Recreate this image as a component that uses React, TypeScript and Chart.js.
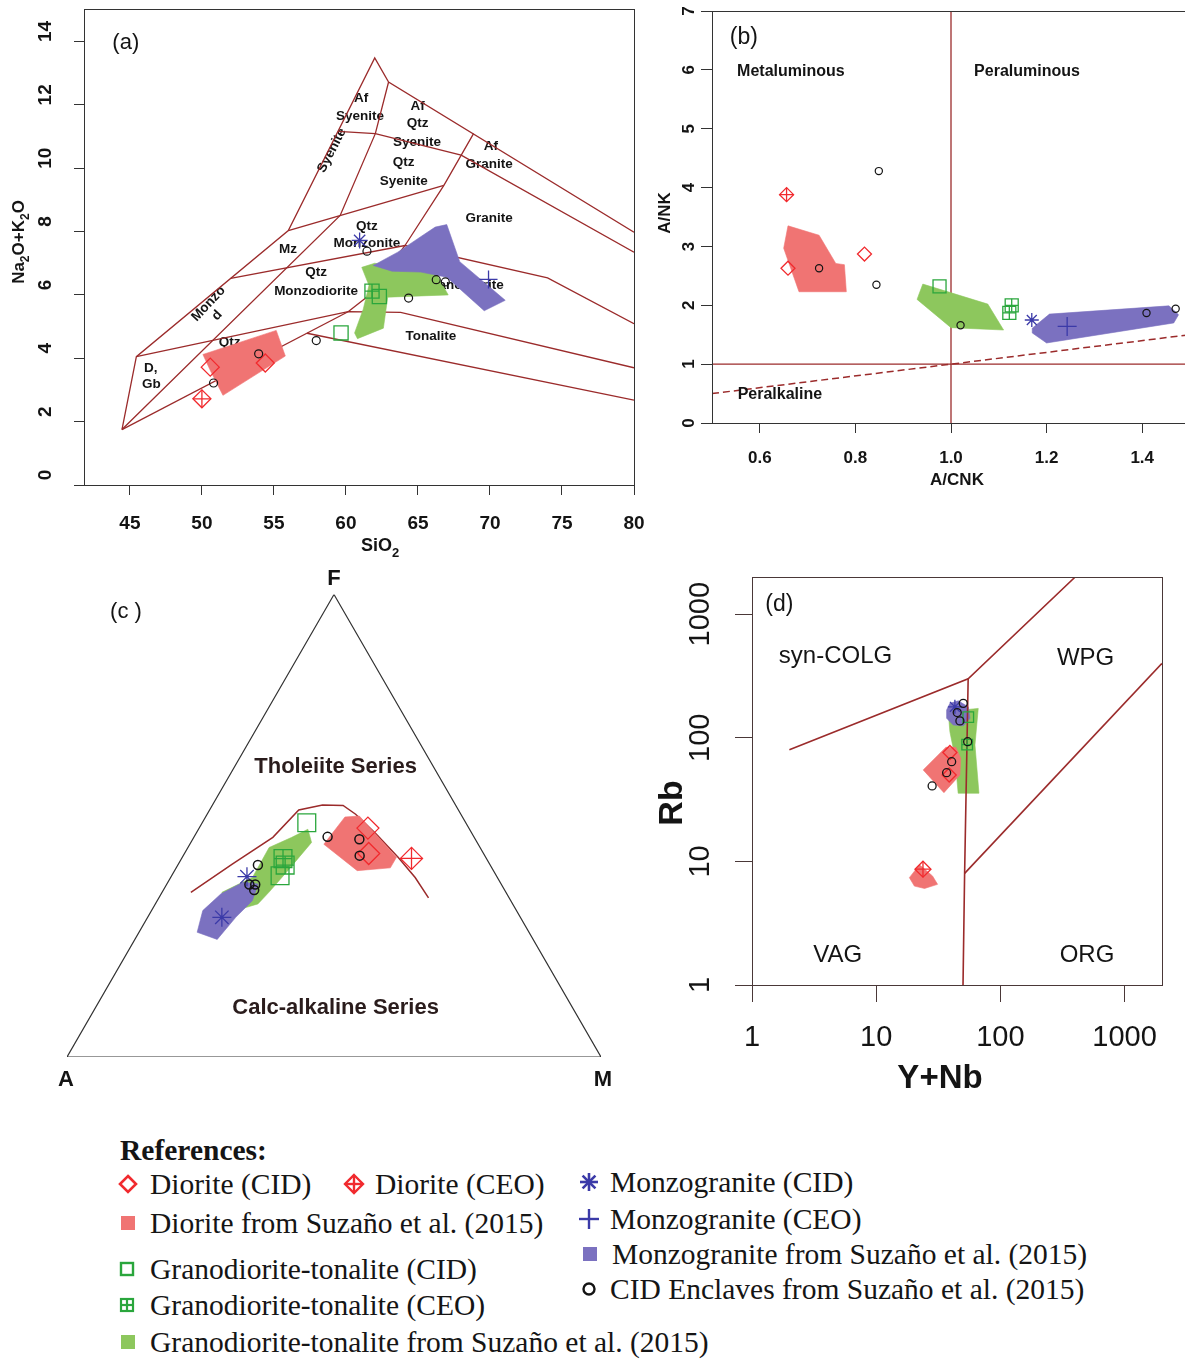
import React, { useEffect, useRef } from 'react';
import { Chart, registerables } from 'chart.js';

Chart.register(...registerables);

// ---------------- style ----------------
const SANS = '"Liberation Sans", Arial, Helvetica, sans-serif';
const SERIF = '"Liberation Serif", "Times New Roman", Times, serif';
const INK = '#141414';
const LINE = '#9b2b2b';
const RED = '#f12a2e';
const GREEN = '#2aa63c';
const BLUE = '#3b3aa8';
const RED_FILL = '#f07473';
const GREEN_FILL = '#8dc75d';
const BLUE_FILL = '#7b71c0';

// ---------------- (a) TAS (SiO2 vs Na2O+K2O) ----------------
const tasXTicks = [45, 50, 55, 60, 65, 70, 75, 80];
const tasYTicks = [0, 2, 4, 6, 8, 10, 12, 14];
const tasOuter = [[44.45, 1.75], [45.45, 4.05], [56.0, 8.03], [62.0, 13.48], [62.96, 12.72], [80, 7.98]];
const tasLowerEdge = [[44.45, 1.75], [60.15, 5.47]];
const tasTonaliteBase = [[57.3, 4.79], [80, 2.68]];
const tasLine1 = [[45.45, 4.05], [60.15, 5.47], [63.8, 5.45], [80, 3.7]];
const tasLine2 = [[52.0, 6.52], [64.1, 7.56], [74.0, 6.54], [80, 5.09]];
const tasLine3 = [[56.0, 8.03], [66.8, 9.46]];
const tasLine4 = [[59.45, 11.16], [62.04, 11.09], [68.0, 10.41], [80, 7.35]];
const tasSilica1 = [[44.45, 1.75], [59.6, 8.51], [62.04, 11.09], [62.96, 12.72]];
const tasSilica2 = [[60.15, 5.47], [61.5, 5.95], [64.1, 7.56], [66.8, 9.46], [68.86, 11.09]];
const tasLabels = [
  { t: 'Af', x: 61.06, y: 12.2 }, { t: 'Syenite', x: 60.98, y: 11.63 },
  { t: 'Af', x: 64.98, y: 11.97 }, { t: 'Qtz', x: 64.98, y: 11.41 }, { t: 'Syenite', x: 64.93, y: 10.82 },
  { t: 'Af', x: 70.07, y: 10.68 }, { t: 'Granite', x: 69.94, y: 10.13 },
  { t: 'Syenite', x: 59.02, y: 10.56, r: -63 },
  { t: 'Qtz', x: 64.01, y: 10.2 }, { t: 'Syenite', x: 64.01, y: 9.6 },
  { t: 'Granite', x: 69.94, y: 8.42 },
  { t: 'Qtz', x: 61.45, y: 8.17 }, { t: 'Monzonite', x: 61.45, y: 7.63 },
  { t: 'Mz', x: 55.97, y: 7.43 },
  { t: 'Qtz', x: 57.93, y: 6.71 }, { t: 'Monzodiorite', x: 57.93, y: 6.11 },
  { t: 'Monzo', x: 50.46, y: 5.72, r: -47 }, { t: 'd', x: 51.05, y: 5.35, r: -47 },
  { t: 'Granodiorite', x: 68.15, y: 6.3 },
  { t: 'Tonalite', x: 65.89, y: 4.7 },
  { t: 'D,', x: 46.44, y: 3.69 }, { t: 'Gb', x: 46.49, y: 3.18 },
  { t: 'Qtz', x: 51.92, y: 4.51 },
];
const aDioriteCID = [[50.58, 3.72], [54.4, 3.85]];
const aDioriteCEO = [[50.0, 2.72]];
const aGranoCID = [[59.66, 4.8], [62.32, 5.95]];
const aGranoCEO = [[61.81, 6.12]];
const aMonzoCID = [[60.95, 7.72]];
const aMonzoCEO = [[69.9, 6.49]];
const aEnclaves = [[50.81, 3.22], [53.94, 4.14], [57.94, 4.56], [61.46, 7.38], [64.35, 5.9], [66.27, 6.48], [66.9, 6.41]];
const aDioritePoly = [[50.07, 4.12], [55.16, 4.88], [55.79, 4.07], [51.46, 2.83], [50.58, 3.62]];
const aGranoPoly = [[61.1, 6.87], [62.0, 7.0], [66.3, 6.65], [67.1, 6.0], [62.9, 5.93], [62.6, 4.95], [60.8, 4.62], [60.6, 4.8], [61.2, 5.55], [61.6, 6.3]];
const aMonzoPoly = [[61.9, 6.93], [63.6, 7.35], [65.5, 7.93], [66.2, 8.14], [67.0, 8.22], [67.9, 7.05], [71.06, 5.83], [69.6, 5.5], [67.0, 6.56], [65.2, 6.72], [63.2, 6.75]];

// ---------------- (b) A/CNK vs A/NK ----------------
const bXTicks = [0.6, 0.8, 1.0, 1.2, 1.4];
const bYTicks = [0, 1, 2, 3, 4, 5, 6, 7];
const bVertical = [[1, 0], [1, 7]];
const bHorizontal = [[0.5, 1], [1.5, 1]];
const bPeralkaline = [[0.5, 0.5], [1.5, 1.5]];
const bLabels = [
  { t: 'Metaluminous', x: 0.665, y: 5.97 },
  { t: 'Peraluminous', x: 1.159, y: 5.97 },
  { t: 'Peralkaline', x: 0.642, y: 0.48 },
];
const bDioriteCID = [[0.659, 2.63], [0.819, 2.87]];
const bDioriteCEO = [[0.656, 3.88]];
const bGranoCID = [[0.976, 2.32]];
const bGranoCEO = [[1.127, 2.0], [1.122, 1.87]];
const bMonzoCID = [[1.169, 1.75]];
const bMonzoCEO = [[1.243, 1.64]];
const bEnclaves = [[0.724, 2.63], [0.849, 4.28], [0.844, 2.35], [1.02, 1.66], [1.409, 1.87], [1.47, 1.94]];
const bDioritePoly = [[0.659, 3.35], [0.724, 3.19], [0.759, 2.71], [0.777, 2.69], [0.781, 2.23], [0.682, 2.23], [0.65, 2.97]];
const bGranoPoly = [[0.941, 2.36], [1.077, 2.02], [1.11, 1.58], [1.0, 1.62], [0.929, 2.1]];
const bMonzoPoly = [[1.17, 1.61], [1.206, 1.85], [1.456, 1.99], [1.476, 1.84], [1.466, 1.7], [1.2, 1.36], [1.17, 1.53]];

// ---------------- (c) AFM ternary, values as [A, F, M] % ----------------
const cTriangle = [[100, 0, 0], [0, 0, 100], [0, 100, 0], [100, 0, 0]];
const cBoundary = [[59.0, 35.6, 5.4], [48.2, 41.7, 10.1], [37.7, 47.5, 14.8], [29.9, 53.4, 16.7], [24.9, 54.5, 20.6], [21.1, 54.4, 24.5], [19.7, 52.5, 27.8], [18.0, 48.2, 33.8], [16.4, 43.2, 40.4], [15.4, 38.8, 45.8], [15.1, 34.4, 50.5]];
const cGranoCID = [[29.8, 50.7, 19.6], [40.5, 39.2, 20.3]];
const cGranoCEO = [[38.1, 42.9, 19.0], [38.4, 41.5, 20.1]];
const cEnclaves = [[27.4, 47.6, 25.0], [21.7, 47.1, 31.2], [23.4, 43.5, 33.0], [43.5, 41.5, 15.0], [47.2, 37.3, 15.5], [46.1, 37.3, 16.6], [46.9, 36.1, 17.0]];
const cDioriteCID = [[18.9, 49.5, 31.6], [21.5, 44.0, 34.5]];
const cDioriteCEO = [[14.0, 42.9, 43.0]];
const cMonzoCID = [[46.8, 39.0, 14.2], [55.9, 30.2, 13.9]];
const cDioritePoly = [[28.9, 46.0, 25.1], [22.0, 51.9, 26.1], [19.2, 52.1, 28.7], [16.7, 43.2, 40.1], [19.0, 40.9, 40.1], [25.5, 40.3, 34.2]];
const cGranoPoly = [[53.2, 35.6, 11.2], [45.8, 38.8, 15.3], [39.5, 45.3, 15.2], [34.3, 47.5, 18.3], [30.3, 49.3, 20.5], [31.0, 46.4, 22.6], [38.5, 40.3, 21.2], [44.4, 35.6, 20.0], [47.7, 33.1, 19.2], [51.3, 32.0, 16.6], [53.2, 33.8, 13.0]];
const cMonzoPoly = [[62.2, 27.0, 10.9], [58.8, 31.7, 9.6], [53.5, 35.3, 11.2], [48.1, 37.8, 14.1], [45.5, 37.4, 17.1], [48.4, 33.8, 17.8], [53.3, 30.2, 16.5], [59.1, 25.4, 15.4]];

// ---------------- (d) Y+Nb vs Rb (log-log) ----------------
const dTicks = [1, 10, 100, 1000];
const dLineSynCol = [[2, 80], [55, 300], [400, 2000]];
const dLineVag = [[55, 300], [51.5, 8], [50, 1]];
const dLineOrg = [[51.5, 8], [2000, 400]];
const dLabels = [
  { t: 'syn-COLG', x: 4.7, y: 455 },
  { t: 'WPG', x: 485, y: 440 },
  { t: 'VAG', x: 4.9, y: 1.74 },
  { t: 'ORG', x: 498, y: 1.74 },
];
const dDioriteCID = [[39.2, 76], [38.7, 50]];
const dDioriteCEO = [[23.8, 8.65]];
const dGranoCID = [[55.1, 147]];
const dGranoCEO = [[54, 88]];
const dMonzoCID = [[43.0, 178]];
const dEnclaves = [[50.2, 190], [44.9, 160], [47.2, 137], [54.5, 93], [40.5, 64.1], [36.9, 52.2], [28.2, 40.8]];
const dDioritePoly1 = [[23.9, 55], [36.4, 83.8], [43.8, 83.8], [47.9, 68.3], [47.2, 50.1], [35.1, 36]];
const dDioritePoly2 = [[18.5, 7.39], [22.3, 9.39], [28.4, 7.63], [31.2, 6.52], [24.5, 6.04], [20.3, 6.31]];
const dGranoPoly = [[38, 163], [66.3, 173], [62.4, 87.5], [67.2, 35.6], [45.7, 35.6], [43, 70.3], [39.2, 112]];
const dMonzoPoly = [[36.9, 168], [39.2, 190], [45.8, 199], [55.1, 178], [56.9, 144], [50.2, 125], [41.7, 127], [36.9, 144]];

// ---------------- helpers ----------------
const toXY = (a: number[][]) => a.map((p) => ({ x: p[0], y: p[1] }));
const close = (a: number[][]) => a.concat([a[0]]);
const tern = (p: number[]) => {
  const s = p[0] + p[1] + p[2];
  const f = p[1] / s;
  const m = p[2] / s;
  return { x: m + f / 2, y: (f * Math.sqrt(3)) / 2 };
};
const toTern = (a: number[][]) => a.map(tern);

const lineDS = (data: any[], color = LINE, width = 1.3, dash: number[] = [], order = 40) => ({
  type: 'line', data, borderColor: color, borderWidth: width, borderDash: dash,
  pointRadius: 0, pointHoverRadius: 0, fill: false, tension: 0, order,
});
const polyDS = (data: any[], color: string, order = 34) => ({
  type: 'line', data, borderColor: color, borderWidth: 0.6, backgroundColor: color,
  fill: 'shape', pointRadius: 0, pointHoverRadius: 0, tension: 0, order,
});
const ptDS = (data: any[], style: string, r: number, color: string, w = 1.3, order = 10) => ({
  type: 'scatter', data, pointStyle: style, pointRadius: r, pointHoverRadius: r,
  pointBorderColor: color, pointBackgroundColor: 'rgba(0,0,0,0)', pointBorderWidth: w,
  borderColor: color, backgroundColor: 'rgba(0,0,0,0)', showLine: false, order,
});

const axis = (type: string, pos: string, min: number, max: number, ticks: number[], size: number, tickLen: number, color: string) => ({
  type, position: pos, min, max,
  afterBuildTicks: (s: any) => { s.ticks = ticks.map((v) => ({ value: v })); },
  afterFit: (s: any) => { if (pos === 'bottom') s.height = size; else s.width = size; },
  grid: { display: true, drawOnChartArea: false, drawTicks: true, tickLength: tickLen, color, lineWidth: 1 },
  border: { display: false },
  ticks: { display: false },
});
const hidden = (min: number, max: number) => ({ type: 'linear', min, max, display: false });

const common = (padding: any) => ({
  animation: false, responsive: false, maintainAspectRatio: false, events: [],
  layout: { autoPadding: false, padding },
  plugins: { legend: { display: false }, tooltip: { enabled: false } },
});

function T(ctx: CanvasRenderingContext2D, s: string, x: number, y: number, font: string, color = INK, rot = 0) {
  ctx.save();
  ctx.translate(x, y);
  if (rot) ctx.rotate((rot * Math.PI) / 180);
  ctx.font = font;
  ctx.fillStyle = color;
  ctx.textAlign = 'center';
  ctx.textBaseline = 'middle';
  ctx.fillText(s, 0, 0);
  ctx.restore();
}
function R(ctx: CanvasRenderingContext2D, segs: [string, boolean][], x: number, y: number, size: number, rot = 0) {
  ctx.save();
  ctx.translate(x, y);
  if (rot) ctx.rotate((rot * Math.PI) / 180);
  const fb = `bold ${size}px ${SANS}`;
  const fs = `bold ${Math.round(size * 0.7)}px ${SANS}`;
  let w = 0;
  for (const [t, sub] of segs) { ctx.font = sub ? fs : fb; w += ctx.measureText(t).width; }
  let cx = -w / 2;
  ctx.fillStyle = INK; ctx.textAlign = 'left'; ctx.textBaseline = 'alphabetic';
  for (const [t, sub] of segs) {
    ctx.font = sub ? fs : fb;
    ctx.fillText(t, cx, size * 0.36 + (sub ? size * 0.3 : 0));
    cx += ctx.measureText(t).width;
  }
  ctx.restore();
}
function box(ctx: CanvasRenderingContext2D, ca: any, color: string) {
  ctx.save();
  ctx.strokeStyle = color; ctx.lineWidth = 1;
  const l = Math.round(ca.left) + 0.5, t = Math.round(ca.top) + 0.5;
  const r = Math.round(ca.right) + 0.5, b = Math.round(ca.bottom) + 0.5;
  ctx.strokeRect(l, t, r - l, b - t);
  ctx.restore();
}

// ---------------- panel configs ----------------
const cfgA = () => ({
  type: 'scatter',
  data: {
    datasets: [
      lineDS(toXY(tasOuter)), lineDS(toXY(tasLowerEdge)), lineDS(toXY(tasTonaliteBase)),
      lineDS(toXY(tasLine1)), lineDS(toXY(tasLine2)), lineDS(toXY(tasLine3)), lineDS(toXY(tasLine4)),
      lineDS(toXY(tasSilica1)), lineDS(toXY(tasSilica2)),
      polyDS(toXY(close(aGranoPoly)), GREEN_FILL, 34),
      polyDS(toXY(close(aMonzoPoly)), BLUE_FILL, 33),
      polyDS(toXY(close(aDioritePoly)), RED_FILL, 32),
      ptDS(toXY(aEnclaves), 'circle', 4, INK, 1.2),
      ptDS(toXY(aDioriteCID), 'rectRot', 9, RED),
      ptDS(toXY(aDioriteCEO), 'rectRot', 9, RED), ptDS(toXY(aDioriteCEO), 'cross', 9, RED),
      ptDS(toXY(aGranoCID), 'rect', 10, GREEN),
      ptDS(toXY(aGranoCEO), 'rect', 10, GREEN), ptDS(toXY(aGranoCEO), 'cross', 7, GREEN),
      ptDS(toXY(aMonzoCID), 'star', 8, BLUE), ptDS(toXY(aMonzoCEO), 'cross', 9, BLUE),
    ],
  },
  options: {
    ...common({ left: 0, top: 9, right: 16, bottom: 0 }),
    scales: {
      x: axis('linear', 'bottom', 41.814, 80, tasXTicks, 80, 10, '#333'),
      y: axis('linear', 'left', 0, 15.025, tasYTicks, 84, 10, '#333'),
    },
  },
  plugins: [{
    id: 'decoA',
    beforeDatasetsDraw(chart: any) {
      const { ctx, scales: { x, y } } = chart;
      for (const L of tasLabels) T(ctx, L.t, x.getPixelForValue(L.x), y.getPixelForValue(L.y), `bold 13.5px ${SANS}`, INK, (L as any).r || 0);
    },
    afterDatasetsDraw(chart: any) {
      const { ctx, chartArea, scales: { x, y } } = chart;
      box(ctx, chartArea, '#333');
      for (const v of tasXTicks) T(ctx, String(v), x.getPixelForValue(v), 524, `bold 19px ${SANS}`);
      for (const v of tasYTicks) T(ctx, String(v), 45.7, y.getPixelForValue(v) - 10, `bold 19px ${SANS}`, INK, -90);
      R(ctx, [['SiO', false], ['2', true]], 380, 545, 18);
      R(ctx, [['Na', false], ['2', true], ['O+K', false], ['2', true], ['O', false]], 18, 242, 17, -90);
      T(ctx, '(a)', 125.8, 43, `22px ${SANS}`);
    },
  }],
});

const cfgB = () => ({
  type: 'scatter',
  data: {
    datasets: [
      lineDS(toXY(bVertical)), lineDS(toXY(bHorizontal)), lineDS(toXY(bPeralkaline), LINE, 1.5, [7, 4]),
      polyDS(toXY(close(bGranoPoly)), GREEN_FILL, 34),
      polyDS(toXY(close(bMonzoPoly)), BLUE_FILL, 33),
      polyDS(toXY(close(bDioritePoly)), RED_FILL, 32),
      ptDS(toXY(bEnclaves), 'circle', 3.6, INK, 1.2),
      ptDS(toXY(bDioriteCID), 'rectRot', 7, RED),
      ptDS(toXY(bDioriteCEO), 'rectRot', 7, RED), ptDS(toXY(bDioriteCEO), 'cross', 7, RED),
      ptDS(toXY(bGranoCID), 'rect', 9.2, GREEN),
      ptDS(toXY(bGranoCEO), 'rect', 9.2, GREEN), ptDS(toXY(bGranoCEO), 'cross', 6.5, GREEN),
      ptDS(toXY(bMonzoCID), 'star', 7, BLUE), ptDS(toXY(bMonzoCEO), 'cross', 9.5, BLUE),
    ],
  },
  options: {
    ...common({ left: 0, top: 11, right: 5, bottom: 0 }),
    scales: {
      x: axis('linear', 'bottom', 0.5, 1.5, bXTicks, 77, 10, '#333'),
      y: axis('linear', 'left', 0, 7, bYTicks, 62, 11, '#333'),
    },
  },
  plugins: [{
    id: 'decoB',
    afterDatasetsDraw(chart: any) {
      const { ctx, chartArea, scales: { x, y } } = chart;
      box(ctx, chartArea, '#333');
      for (const L of bLabels) T(ctx, L.t, x.getPixelForValue(L.x), y.getPixelForValue(L.y), `bold 16px ${SANS}`);
      for (const v of bXTicks) T(ctx, v.toFixed(1), x.getPixelForValue(v), 458, `bold 17px ${SANS}`);
      for (const v of bYTicks) T(ctx, String(v), 39.2, y.getPixelForValue(v), `bold 17px ${SANS}`, INK, -90);
      T(ctx, 'A/CNK', 307, 480, `bold 17px ${SANS}`);
      T(ctx, 'A/NK', 15.4, 213, `bold 17px ${SANS}`, INK, -90);
      T(ctx, '(b)', 93.8, 37.3, `23px ${SANS}`);
    },
  }],
});

const cfgC = () => ({
  type: 'scatter',
  data: {
    datasets: [
      lineDS(toTern(cTriangle), '#333', 1.2, [], 41),
      lineDS(toTern(cBoundary), LINE, 1.5, [], 40),
      polyDS(toTern(close(cGranoPoly)), GREEN_FILL, 36),
      polyDS(toTern(close(cMonzoPoly)), BLUE_FILL, 35),
      polyDS(toTern(close(cDioritePoly)), RED_FILL, 34),
      ptDS(toTern(cEnclaves), 'circle', 4.5, INK, 1.5),
      ptDS(toTern(cDioriteCID), 'rectRot', 11, RED),
      ptDS(toTern(cDioriteCEO), 'rectRot', 11, RED), ptDS(toTern(cDioriteCEO), 'cross', 11, RED),
      ptDS(toTern(cGranoCID), 'rect', 12.6, GREEN),
      ptDS(toTern(cGranoCEO), 'rect', 12.6, GREEN), ptDS(toTern(cGranoCEO), 'cross', 8.9, GREEN),
      ptDS(toTern(cMonzoCID), 'star', 9.5, BLUE),
    ],
  },
  options: {
    ...common({ left: 67, top: 29.55, right: 49, bottom: 48 }),
    scales: { x: hidden(0, 1), y: hidden(0, Math.sqrt(3) / 2) },
  },
  plugins: [{
    id: 'decoC',
    afterDatasetsDraw(chart: any) {
      const { ctx, scales: { x, y } } = chart;
      const f = `bold 22px ${SANS}`;
      T(ctx, 'Tholeiite Series', x.getPixelForValue(0.503), y.getPixelForValue(0.5436), f, '#2a1c1c');
      T(ctx, 'Calc-alkaline Series', x.getPixelForValue(0.503), y.getPixelForValue(0.0922), f, '#2a1c1c');
      T(ctx, 'A', x.getPixelForValue(0) - 1, y.getPixelForValue(0) + 23, f);
      T(ctx, 'M', x.getPixelForValue(1) + 2, y.getPixelForValue(0) + 23, f);
      T(ctx, 'F', x.getPixelForValue(0.5), y.getPixelForValue(Math.sqrt(3) / 2) - 16, f);
      T(ctx, '(c )', 126, 47, `22px ${SANS}`);
    },
  }],
});

const cfgD = () => ({
  type: 'scatter',
  data: {
    datasets: [
      polyDS(toXY(close(dGranoPoly)), GREEN_FILL, 46),
      polyDS(toXY(close(dMonzoPoly)), BLUE_FILL, 45),
      polyDS(toXY(close(dDioritePoly1)), RED_FILL, 44),
      polyDS(toXY(close(dDioritePoly2)), RED_FILL, 44),
      lineDS(toXY(dLineSynCol), LINE, 1.6, [], 30), lineDS(toXY(dLineVag), LINE, 1.6, [], 30), lineDS(toXY(dLineOrg), LINE, 1.6, [], 30),
      ptDS(toXY(dEnclaves), 'circle', 4, INK, 1.3),
      ptDS(toXY(dDioriteCID), 'rectRot', 7, RED),
      ptDS(toXY(dDioriteCEO), 'rectRot', 8, RED), ptDS(toXY(dDioriteCEO), 'cross', 8, RED),
      ptDS(toXY(dGranoCID), 'rect', 7.5, GREEN),
      ptDS(toXY(dGranoCEO), 'rect', 7.5, GREEN), ptDS(toXY(dGranoCEO), 'cross', 5.3, GREEN),
      ptDS(toXY(dMonzoCID), 'star', 7, BLUE),
    ],
  },
  options: {
    ...common({ left: 0, top: 12, right: 23, bottom: 0 }),
    scales: {
      x: axis('logarithmic', 'bottom', 1, 2000, dTicks, 120, 17, '#4a3838'),
      y: axis('logarithmic', 'left', 1, 2000, dTicks, 102, 17, '#4a3838'),
    },
  },
  plugins: [{
    id: 'decoD',
    afterDatasetsDraw(chart: any) {
      const { ctx, chartArea, scales: { x, y } } = chart;
      box(ctx, chartArea, '#4a3838');
      for (const L of dLabels) T(ctx, L.t, x.getPixelForValue(L.x), y.getPixelForValue(L.y), `24px ${SANS}`);
      for (const v of dTicks) T(ctx, String(v), x.getPixelForValue(v), 473, `29px ${SANS}`);
      for (const v of dTicks) T(ctx, String(v), 51.2, y.getPixelForValue(v), `29px ${SANS}`, INK, -90);
      T(ctx, 'Y+Nb', 290, 514, `bold 33px ${SANS}`);
      T(ctx, 'Rb', 22.2, 238, `bold 34px ${SANS}`, INK, -90);
      T(ctx, '(d)', x.getPixelForValue(1.66), y.getPixelForValue(1205), `23px ${SANS}`);
    },
  }],
});

// ---------------- components ----------------
function Panel({ left, top, w, h, make }: { left: number; top: number; w: number; h: number; make: () => any }) {
  const ref = useRef<HTMLCanvasElement>(null);
  useEffect(() => {
    const c = new Chart(ref.current as HTMLCanvasElement, make());
    return () => c.destroy();
  }, []);
  return <canvas ref={ref} width={w} height={h} style={{ position: 'absolute', left, top, width: w, height: h }} />;
}

function Marker({ kind, x, y }: { kind: string; x: number; y: number }) {
  const s = 24;
  const c = s / 2;
  let el: any = null;
  if (kind === 'diamond') el = <polygon points={`${c},${c - 8} ${c + 8},${c} ${c},${c + 8} ${c - 8},${c}`} fill="none" stroke={RED} strokeWidth={2.6} />;
  else if (kind === 'diamondPlus') el = (<g stroke={RED} strokeWidth={2.4} fill="none"><polygon points={`${c},${c - 9} ${c + 9},${c} ${c},${c + 9} ${c - 9},${c}`} /><line x1={c} y1={c - 9} x2={c} y2={c + 9} /><line x1={c - 9} y1={c} x2={c + 9} y2={c} /></g>);
  else if (kind === 'fillRed') el = <rect x={c - 7} y={c - 7} width={14} height={14} fill={RED_FILL} />;
  else if (kind === 'fillGreen') el = <rect x={c - 7} y={c - 7} width={14} height={14} fill={GREEN_FILL} />;
  else if (kind === 'fillBlue') el = <rect x={c - 7} y={c - 7} width={14} height={14} fill={BLUE_FILL} />;
  else if (kind === 'square') el = <rect x={c - 6} y={c - 6} width={12} height={12} fill="none" stroke={GREEN} strokeWidth={2.4} />;
  else if (kind === 'squarePlus') el = (<g stroke={GREEN} strokeWidth={2.2} fill="none"><rect x={c - 6} y={c - 6} width={12} height={12} /><line x1={c} y1={c - 6} x2={c} y2={c + 6} /><line x1={c - 6} y1={c} x2={c + 6} y2={c} /></g>);
  else if (kind === 'star') el = (<g stroke={BLUE} strokeWidth={2.6}><line x1={c} y1={c - 9} x2={c} y2={c + 9} /><line x1={c - 9} y1={c} x2={c + 9} y2={c} /><line x1={c - 6.4} y1={c - 6.4} x2={c + 6.4} y2={c + 6.4} /><line x1={c - 6.4} y1={c + 6.4} x2={c + 6.4} y2={c - 6.4} /></g>);
  else if (kind === 'plus') el = (<g stroke={BLUE} strokeWidth={2.4}><line x1={c} y1={c - 10} x2={c} y2={c + 10} /><line x1={c - 10} y1={c} x2={c + 10} y2={c} /></g>);
  else if (kind === 'circle') el = <circle cx={c} cy={c} r={5.5} fill="none" stroke={INK} strokeWidth={2.4} />;
  return <svg width={s} height={s} style={{ position: 'absolute', left: x - c, top: y - c }}>{el}</svg>;
}

const legendItems = [
  { y: 1184, mx: 128, tx: 150, mk: 'diamond', text: 'Diorite (CID)' },
  { y: 1184, mx: 354, tx: 375, mk: 'diamondPlus', text: 'Diorite (CEO)' },
  { y: 1223, mx: 128, tx: 150, mk: 'fillRed', text: 'Diorite from Suzaño et al. (2015)' },
  { y: 1269, mx: 127, tx: 150, mk: 'square', text: 'Granodiorite-tonalite (CID)' },
  { y: 1305, mx: 127, tx: 150, mk: 'squarePlus', text: 'Granodiorite-tonalite (CEO)' },
  { y: 1342, mx: 128, tx: 150, mk: 'fillGreen', text: 'Granodiorite-tonalite from Suzaño et al. (2015)' },
  { y: 1182, mx: 589, tx: 610, mk: 'star', text: 'Monzogranite (CID)' },
  { y: 1219, mx: 589, tx: 610, mk: 'plus', text: 'Monzogranite (CEO)' },
  { y: 1254, mx: 590, tx: 612, mk: 'fillBlue', text: 'Monzogranite from Suzaño et al. (2015)' },
  { y: 1289, mx: 589, tx: 610, mk: 'circle', text: 'CID Enclaves from Suzaño et al. (2015)' },
];

export default function App() {
  const textStyle = (x: number, y: number, bold = false): React.CSSProperties => ({
    position: 'absolute', left: x, top: y - 15, fontFamily: SERIF, fontSize: 29.5, lineHeight: '30px',
    fontWeight: bold ? 700 : 400, color: '#151515', whiteSpace: 'nowrap',
  });
  return (
    <div style={{ position: 'absolute', left: 0, top: 0, width: 1185, height: 1359, overflow: 'hidden', background: '#ffffff' }}>
      <Panel left={0} top={0} w={650} h={565} make={cfgA} />
      <Panel left={650} top={0} w={545} h={500} make={cfgB} />
      <Panel left={0} top={565} w={650} h={540} make={cfgC} />
      <Panel left={650} top={565} w={535} h={540} make={cfgD} />
      <div style={textStyle(120, 1150, true)}>References:</div>
      {legendItems.map((it, i) => (
        <React.Fragment key={i}>
          <Marker kind={it.mk} x={it.mx} y={it.y} />
          <div style={textStyle(it.tx, it.y)}>{it.text}</div>
        </React.Fragment>
      ))}
    </div>
  );
}
